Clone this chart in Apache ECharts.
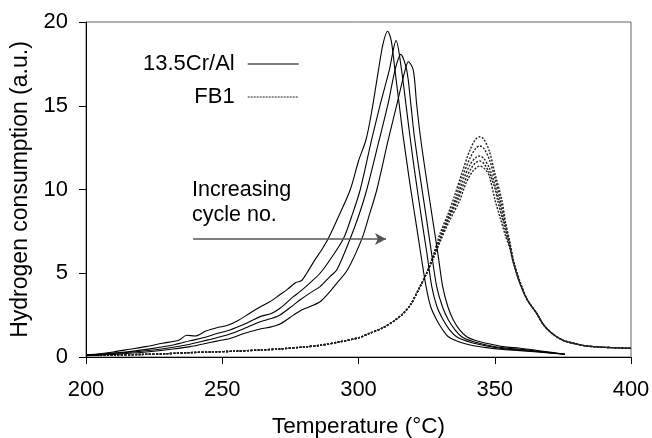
<!DOCTYPE html>
<html>
<head>
<meta charset="utf-8">
<script src="https://cdn.jsdelivr.net/npm/echarts@6/dist/echarts.min.js"></script>
<style>html,body{margin:0;padding:0;background:#fff}#c{width:652px;height:438px}</style>
</head>
<body>
<div id="c"></div>
<script>
// ---- Data ----
const xTicks = [200, 250, 300, 350, 400];
const yTicks = [0, 5, 10, 15, 20];
const xTitle = 'Temperature (°C)';
const yTitle = 'Hydrogen consumption (a.u.)';
const seriesNames = ['13.5Cr/Al', 'FB1'];
const annotationText = 'Increasing\ncycle no.';
const arrowFrom = [239.3, 7.04];
const arrowTo = [310.1, 7.04];

// 13.5Cr/Al, four cycles [temperature, signal]
const cr1 = [[200,0.15],[204,0.18],[210,0.3],[216,0.46],[222,0.62],[228,0.82],[234,1.0],[237,1.3],[240,1.25],[244,1.55],[248,1.75],[252,1.9],[256,2.2],[260,2.6],[264,3.0],[268,3.35],[271,3.7],[274,4.05],[277,4.45],[279,4.55],[281,5.0],[284,5.8],[286.5,6.4],[289,7.1],[293,8.5],[297,10.0],[300,11.7],[302.8,13.0],[305,14.8],[307.3,17.1],[309,18.7],[310.7,19.45],[312,18.9],[313.4,17.1],[315,15.0],[316.2,13.4],[317.5,11.9],[319,10.2],[321.3,7.8],[323,6.0],[324.8,4.2],[326.5,3.0],[328.7,2.21],[331,1.6],[333,1.21],[337,0.9],[341,0.72],[347,0.56],[353,0.45],[359.3,0.38],[367,0.28],[375.8,0.16]];
const cr2 = [[200,0.12],[206,0.18],[216,0.32],[224,0.5],[232,0.72],[238.2,0.97],[243,1.15],[248,1.4],[252.8,1.61],[258,1.95],[263.9,2.41],[268,2.6],[271.2,2.91],[276.1,3.6],[278.5,3.9],[282,4.4],[285.9,5.0],[289.5,5.79],[294.4,7.04],[297.5,8.4],[300.6,9.97],[304.8,12.96],[308.1,15.15],[311.3,17.13],[313.8,18.89],[315.8,17.13],[317.4,15.1],[318.7,13.4],[320.5,11.2],[323.2,8.2],[325,6.3],[326.9,4.2],[328.8,3.0],[331.1,2.21],[333.5,1.6],[336,1.21],[341,0.88],[347,0.66],[353,0.5],[359.3,0.42],[367,0.3],[375.8,0.16]];
const cr3 = [[200,0.1],[206,0.15],[216,0.28],[224,0.4],[232,0.58],[238.2,0.76],[243,0.95],[248,1.15],[252.8,1.37],[258,1.7],[263.9,2.11],[268,2.3],[271.2,2.51],[276.1,3.1],[278.5,3.4],[282,3.8],[285.9,4.2],[289.5,4.8],[292,5.19],[296.9,7.04],[300,8.4],[303,9.97],[307.6,12.96],[310.9,15.15],[313.4,17.13],[315.5,18.07],[317.7,17.13],[319.2,15.1],[320.4,13.3],[322.3,11.1],[325,8.2],[326.8,6.2],[328.7,4.2],[330.8,3.0],[333,2.21],[335.5,1.6],[337.9,1.21],[342,0.92],[347,0.72],[353,0.55],[359.3,0.46],[367,0.32],[375.8,0.16]];
const cr4 = [[200,0.08],[206,0.12],[216,0.22],[224,0.33],[232,0.48],[238.2,0.62],[243,0.78],[248,0.95],[252.8,1.11],[258,1.4],[263.9,1.67],[268,1.8],[271.2,1.97],[276.1,2.5],[278.5,2.75],[282,3.0],[285.9,3.3],[289.5,3.9],[292,4.4],[295.9,5.19],[301.2,7.04],[304,8.5],[306.7,9.97],[310.9,12.96],[314.2,15.15],[317.1,17.13],[318.3,17.63],[320.1,17.13],[321.3,15.15],[322.6,13.3],[324.6,11.0],[327.5,7.9],[329.2,6.1],[330.9,4.2],[332.8,3.0],[334.8,2.21],[337.2,1.6],[339.7,1.21],[343,0.98],[347,0.82],[353,0.62],[359.3,0.52],[367,0.36],[375.8,0.16]];

// FB1, five cycles [temperature, signal]
const fb1 = [[200,0.1],[210,0.12],[220,0.15],[230,0.2],[238,0.26],[246,0.3],[255,0.35],[264,0.42],[271,0.48],[280,0.6],[286,0.7],[293,0.9],[300,1.15],[304,1.41],[309,1.75],[313,2.15],[316.4,2.6],[319,3.1],[322.6,4.2],[325,5.0],[327.5,6.1],[330,7.4],[333,8.6],[335,9.5],[338,11.0],[341,12.4],[343,13.0],[344.5,13.15],[346,13.0],[348,12.3],[350,11.0],[352.6,9.37],[354,8.0],[355.5,6.9],[357,5.7],[359.3,4.5],[362,3.4],[365.4,2.6],[368,1.9],[371.5,1.35],[375,1.0],[378.8,0.82],[383.7,0.66],[390,0.58],[400,0.52]];
const fb2 = [[200,0.1],[210,0.12],[220,0.15],[230,0.2],[238,0.26],[246,0.3],[255,0.35],[264,0.42],[271,0.48],[280,0.6],[286,0.7],[293,0.9],[300,1.15],[304,1.41],[309,1.75],[313,2.15],[316.4,2.6],[319,3.1],[322.6,4.2],[325,5.0],[327.5,6.05],[330,7.2],[333,8.4],[335.5,9.4],[338,10.7],[341,11.9],[343,12.45],[344.5,12.6],[346,12.45],[348,11.8],[350,10.7],[352,9.4],[354,7.9],[355.5,6.8],[357,5.6],[359.3,4.45],[362,3.4],[365.4,2.6],[368,1.9],[371.5,1.35],[375,1.0],[378.8,0.82],[383.7,0.66],[390,0.58],[400,0.52]];
const fb3 = [[200,0.1],[210,0.12],[220,0.15],[230,0.2],[238,0.26],[246,0.3],[255,0.35],[264,0.42],[271,0.48],[280,0.6],[286,0.7],[293,0.9],[300,1.15],[304,1.41],[309,1.75],[313,2.15],[316.4,2.6],[319,3.1],[322.6,4.2],[325,5.0],[327.5,6.0],[330,7.1],[333,8.3],[336,9.4],[338.5,10.6],[341,11.5],[343,11.9],[344.5,12.0],[346,11.85],[348,11.3],[350,10.3],[351.5,9.4],[353.5,8.0],[355.5,6.7],[357,5.6],[359.3,4.4],[362,3.4],[365.4,2.6],[368,1.9],[371.5,1.35],[375,1.0],[378.8,0.82],[383.7,0.66],[390,0.58],[400,0.52]];
const fb4 = [[200,0.1],[210,0.12],[220,0.15],[230,0.2],[238,0.26],[246,0.3],[255,0.35],[264,0.42],[271,0.48],[280,0.6],[286,0.7],[293,0.9],[300,1.15],[304,1.41],[309,1.75],[313,2.15],[316.4,2.6],[319,3.1],[322.6,4.2],[325,5.0],[327.5,5.95],[330,7.0],[333,8.2],[336.5,9.4],[339,10.5],[341.5,11.3],[343,11.6],[344.5,11.7],[346,11.55],[348,11.0],[350,10.1],[351,9.4],[353,8.1],[355.5,6.6],[357,5.55],[359.3,4.4],[362,3.4],[365.4,2.6],[368,1.9],[371.5,1.35],[375,1.0],[378.8,0.82],[383.7,0.66],[390,0.58],[400,0.52]];
const fb5 = [[200,0.1],[210,0.12],[220,0.15],[230,0.2],[238,0.26],[246,0.3],[255,0.35],[264,0.42],[271,0.48],[280,0.6],[286,0.7],[293,0.9],[300,1.15],[304,1.41],[309,1.75],[313,2.15],[316.4,2.6],[319,3.1],[322.6,4.2],[325,5.0],[327.5,5.9],[330,6.9],[333,8.0],[337.2,9.37],[339.5,10.4],[342,11.1],[344.5,11.4],[346.5,11.2],[348,10.8],[350.1,9.37],[352,8.3],[354,7.2],[355.5,6.5],[357,5.5],[359.3,4.35],[362,3.4],[365.4,2.6],[368,1.9],[371.5,1.35],[375,1.0],[378.8,0.82],[383.7,0.66],[390,0.58],[400,0.52]];

const crCurves = [cr1, cr2, cr3, cr4];
const fbCurves = [fb1, fb2, fb3, fb4, fb5];

// ---- Chart ----
const FONT = 'Liberation Sans, Arial, sans-serif';
const chart = echarts.init(document.getElementById('c'), null, {renderer: 'canvas'});

const series = [];
crCurves.forEach(d => series.push({
  name: seriesNames[0], type: 'line', data: d, symbol: 'none', smooth: 0.3,
  lineStyle: {color: '#000', width: 1.1, type: 'solid'}, itemStyle: {color: '#000'},
  animation: false, z: 3
}));
fbCurves.forEach(d => series.push({
  name: seriesNames[1], type: 'line', data: d, symbol: 'none', smooth: 0.3,
  lineStyle: {color: '#222', width: 1.4, type: [2, 1.5]}, itemStyle: {color: '#222'},
  animation: false, z: 2
}));
// arrow annotation, placed in data coordinates
series.push({
  name: 'arrow', type: 'line', data: [], symbol: 'none', animation: false,
  markLine: {
    silent: true, symbol: ['none', 'arrow'], symbolSize: [9, 11],
    lineStyle: {color: '#555', width: 1.5, type: 'solid'},
    label: {show: false},
    data: [[{coord: arrowFrom}, {coord: arrowTo}]]
  }
});

chart.setOption({
  animation: false,
  grid: {left: 86, right: 21, top: 22, bottom: 81, show: true, borderColor: '#666', borderWidth: 1,
         backgroundColor: 'transparent', containLabel: false, outerBoundsMode: 'none'},
  legend: {
    data: [
      {name: seriesNames[0], itemStyle: {opacity: 0}, lineStyle: {color: '#000', width: 1}},
      {name: seriesNames[1], itemStyle: {opacity: 0}, lineStyle: {color: '#222', type: [2, 1], width: 1}}
    ],
    orient: 'vertical', align: 'right',
    left: 138, top: 48, itemWidth: 51, itemHeight: 14, itemGap: 11,
    itemStyle: {opacity: 0},
    textStyle: {fontFamily: FONT, fontSize: 22, color: '#000', width: 92, align: 'right', padding: [0, 8, 0, 0]},
    selectedMode: false
  },
  xAxis: {
    type: 'value', min: xTicks[0], max: xTicks[xTicks.length - 1], interval: 50,
    name: xTitle, nameLocation: 'middle', nameGap: 58,
    nameTextStyle: {fontFamily: FONT, fontSize: 22.5, color: '#000'},
    axisLine: {show: true, lineStyle: {color: '#000', width: 1}},
    axisTick: {show: true, inside: false, length: 7, lineStyle: {color: '#000'}},
    axisLabel: {fontFamily: FONT, fontSize: 22, color: '#000', margin: 22},
    splitLine: {show: false}
  },
  yAxis: {
    type: 'value', min: yTicks[0], max: yTicks[yTicks.length - 1], interval: 5,
    name: yTitle, nameLocation: 'middle', nameGap: 47,
    nameTextStyle: {fontFamily: FONT, fontSize: 23, color: '#000'},
    axisLine: {show: true, lineStyle: {color: '#000', width: 1}},
    axisTick: {show: true, inside: false, length: 7, lineStyle: {color: '#000'}},
    axisLabel: {fontFamily: FONT, fontSize: 22, color: '#000', margin: 18},
    splitLine: {show: false}
  },
  graphic: [{
    type: 'text', left: 192, top: 178, silent: true,
    style: {text: annotationText, font: '21.5px ' + FONT, fill: '#000', lineHeight: 25}
  }],
  series: series
});
</script>
</body>
</html>
